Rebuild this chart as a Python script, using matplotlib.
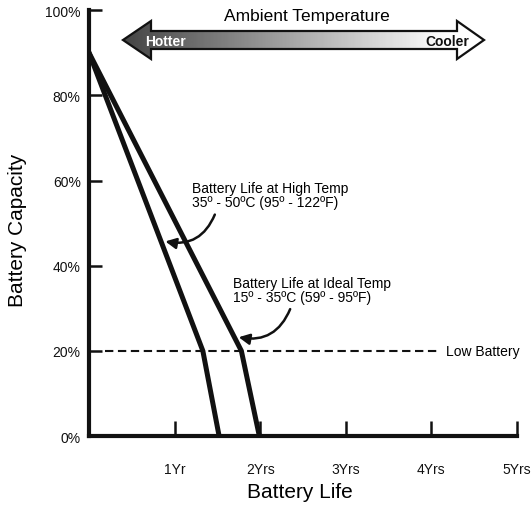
import matplotlib
matplotlib.use('Agg')
import matplotlib.pyplot as plt
import numpy as np
from matplotlib.patches import Polygon

plt.rcParams['font.family'] = ['Liberation Sans', 'DejaVu Sans']

# battery capacity (%) vs. years of service
high_years = [0.0, 1.33, 1.52]
high_capacity = [90, 20, 0]
ideal_years = [0.0, 1.78, 1.99]
ideal_capacity = [90, 20, 0]

low_battery = 20
year_ticks = [1, 2, 3, 4, 5]
year_labels = ['1Yr', '2Yrs', '3Yrs', '4Yrs', '5Yrs']
cap_ticks = [0, 20, 40, 60, 80, 100]
cap_labels = ['0%', '20%', '40%', '60%', '80%', '100%']

fig = plt.figure(figsize=(5.31, 5.10), dpi=100)
ax = fig.add_axes([0.1676, 0.1431, 0.806, 0.835])

ax.plot(high_years, high_capacity, color='#111111', lw=3.6, solid_joinstyle='miter', zorder=3)
ax.plot(ideal_years, ideal_capacity, color='#111111', lw=3.6, solid_joinstyle='miter', zorder=3)

# low battery threshold
ax.plot([0.19, 4.07], [low_battery, low_battery], color='#111111', lw=1.5,
        dashes=(4, 2.2))
ax.text(4.17, low_battery, 'Low Battery', fontsize=10, va='center', ha='left')

ax.set_xlim(0, 5)
ax.set_ylim(0, 100)
for s in ['top', 'right']:
    ax.spines[s].set_visible(False)
for s in ['left', 'bottom']:
    ax.spines[s].set_linewidth(3.0)
    ax.spines[s].set_color('#111111')

ax.set_xticks(year_ticks)
ax.set_xticklabels(year_labels, fontsize=10)
ax.set_yticks(cap_ticks)
ax.set_yticklabels(cap_labels, fontsize=10)
ax.tick_params(axis='x', direction='in', length=11, width=1.8, pad=19, colors='#111111')
ax.tick_params(axis='y', direction='in', length=9, width=1.8, pad=6, colors='#111111')

ax.text(0.493, -0.131, 'Battery Life', transform=ax.transAxes, fontsize=15,
        ha='center', va='center')
ax.text(-0.166, 0.486, 'Battery Capacity', transform=ax.transAxes, fontsize=15,
        ha='center', va='center', rotation=90)

# callouts pointing at each curve
arrow_style = dict(arrowstyle='-|>', color='#111111', lw=1.8, mutation_scale=16,
                   shrinkA=0, shrinkB=0, connectionstyle='arc3,rad=-0.4')

ax.text(1.20, 56.6, 'Battery Life at High Temp\n35º - 50ºC (95º - 122ºF)',
        fontsize=10, ha='left', va='center', linespacing=1.05)
tip_high = np.interp(-45.7, [-c for c in high_capacity[:2]], high_years[:2])
ax.annotate('', xy=(tip_high + 0.05, 45.7), xytext=(1.47, 52.0), arrowprops=arrow_style)

ax.text(1.68, 34.3, 'Battery Life at Ideal Temp\n15º - 35ºC (59º - 95ºF)',
        fontsize=10, ha='left', va='center', linespacing=1.05)
tip_ideal = np.interp(-23.2, [-c for c in ideal_capacity[:2]], ideal_years[:2])
ax.annotate('', xy=(tip_ideal + 0.05, 23.2), xytext=(2.35, 29.8), arrowprops=arrow_style)

# ambient temperature double arrow drawn in a pixel-space overlay
ov = fig.add_axes([0, 0, 1, 1], facecolor='none')
ov.set_xlim(0, 531)
ov.set_ylim(510, 0)
ov.axis('off')
pts = [(123, 41), (151, 22), (151, 32), (457, 32), (457, 22), (484, 41),
       (457, 60), (457, 50), (151, 50), (151, 60)]
arrow = Polygon(pts, closed=True, facecolor='none', edgecolor='#111111', lw=1.6, zorder=3)
ov.add_patch(arrow)
grad = np.clip(np.linspace(0.27, 1.08, 256), 0, 1)[None, :]
im = ov.imshow(grad, cmap='gray', vmin=0, vmax=1, aspect='auto',
               extent=[123, 484, 60, 22], zorder=2)
im.set_clip_path(arrow)
ov.set_xlim(0, 531)
ov.set_ylim(510, 0)
ov.text(307, 17, 'Ambient Temperature', fontsize=12.5, ha='center', va='center')
ov.text(145, 41.5, 'Hotter', fontsize=10, fontweight='bold', color='white',
        ha='left', va='center')
ov.text(469, 41.5, 'Cooler', fontsize=10, fontweight='bold', color='#111111',
        ha='right', va='center')

fig.savefig('out.png', dpi=100)
